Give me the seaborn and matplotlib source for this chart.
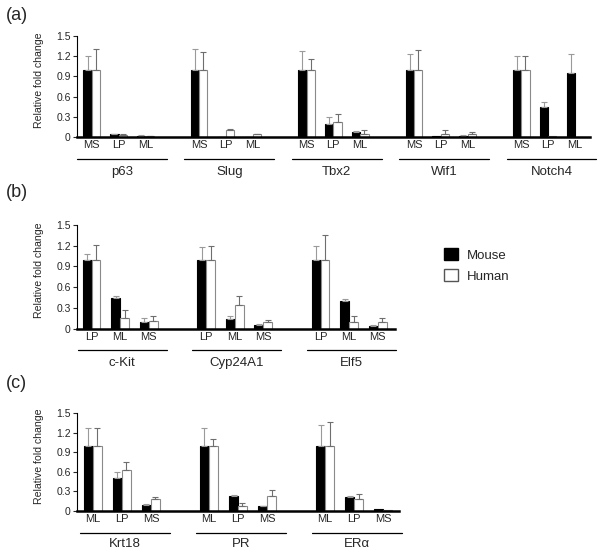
import numpy as np
import pandas as pd
import matplotlib
matplotlib.use("Agg")
import matplotlib.pyplot as plt
import seaborn as sns
from matplotlib.patches import Patch

# panel (a)
genes_a = ["p63", "Slug", "Tbx2", "Wif1", "Notch4"]
cells_a = ["MS", "LP", "ML"]
mouse_a = [1.0, 0.04, 0.02, 1.0, 0.0, 0.0, 1.0, 0.19, 0.07, 1.0, 0.01, 0.02, 1.0, 0.445, 0.945]
mouse_a_err = [0.2, 0.01, 0.005, 0.3, 0.0, 0.0, 0.28, 0.10, 0.02, 0.24, 0.0, 0.005, 0.2, 0.07, 0.285]
human_a = [1.0, 0.03, 0.015, 1.0, 0.11, 0.04, 1.0, 0.23, 0.05, 1.0, 0.05, 0.04, 1.0, 0.01, 0.0]
human_a_err = [0.3, 0.01, 0.005, 0.26, 0.01, 0.005, 0.16, 0.11, 0.05, 0.29, 0.05, 0.04, 0.21, 0.0, 0.0]

# panel (b)
genes_b = ["c-Kit", "Cyp24A1", "Elf5"]
cells_b = ["LP", "ML", "MS"]
mouse_b = [1.0, 0.44, 0.09, 1.0, 0.145, 0.05, 1.0, 0.395, 0.045]
mouse_b_err = [0.08, 0.04, 0.06, 0.18, 0.035, 0.02, 0.19, 0.035, 0.005]
human_b = [1.0, 0.16, 0.115, 1.0, 0.34, 0.09, 1.0, 0.09, 0.09]
human_b_err = [0.21, 0.105, 0.065, 0.19, 0.13, 0.03, 0.35, 0.09, 0.06]

# panel (c)
genes_c = ["Krt18", "PR", "ER\u03b1"]
cells_c = ["ML", "LP", "MS"]
mouse_c = [1.0, 0.51, 0.087, 1.0, 0.226, 0.07, 1.0, 0.21, 0.03]
mouse_c_err = [0.28, 0.08, 0.023, 0.27, 0.014, 0.005, 0.32, 0.01, 0.0]
human_c = [1.0, 0.625, 0.185, 1.0, 0.07, 0.226, 1.0, 0.18, 0.01]
human_c_err = [0.28, 0.13, 0.03, 0.11, 0.05, 0.094, 0.37, 0.08, 0.0]

yticks = [0, 0.3, 0.6, 0.9, 1.2, 1.5]
ytick_labels = ["0", "0.3", "0.6", "0.9", "1.2", "1.5"]

sns.set_style("white")
plt.rcParams["font.family"] = ["Liberation Sans", "DejaVu Sans"]

W, H = 600, 550
fig = plt.figure(figsize=(6, 5.5), dpi=100)

BAR_W = 0.62


def draw_panel(rect_px, genes, cells, mouse, mouse_err, human, human_err,
               xlim, line_y, label_y, span):
    left, top, right, bottom = rect_px
    ax = fig.add_axes([left / W, (H - bottom) / H, (right - left) / W, (bottom - top) / H])

    order = []
    for k, g in enumerate(genes):
        if k > 0:
            order.append(f"gap{k}")
        for c in cells:
            order.append(f"{g}|{c}")
    slots = [f"{g}|{c}" for g in genes for c in cells]
    df = pd.DataFrame({
        "slot": slots * 2,
        "species": ["Mouse"] * len(slots) + ["Human"] * len(slots),
        "value": list(mouse) + list(human),
    })
    sns.barplot(data=df, x="slot", y="value", hue="species", order=order,
                hue_order=["Mouse", "Human"],
                palette={"Mouse": "black", "Human": "white"},
                width=BAR_W, errorbar=None, legend=False, saturation=1,
                linewidth=0.8, edgecolor="black", ax=ax)
    for p in ax.patches:
        if p.get_facecolor()[0] > 0.5:
            p.set_edgecolor("#8a8a8a")

    pos = np.array([order.index(s) for s in slots], dtype=float)
    off = BAR_W / 4
    m_err = np.array(mouse_err)
    h_err = np.array(human_err)
    mk = m_err > 0
    hk = h_err > 0
    ax.errorbar(pos[mk] - off, np.array(mouse)[mk],
                yerr=[np.zeros(mk.sum()), m_err[mk]],
                fmt="none", ecolor="#9a9a9a", elinewidth=0.8, capsize=2.5, capthick=0.8)
    ax.errorbar(pos[hk] + off, np.array(human)[hk],
                yerr=[np.zeros(hk.sum()), h_err[hk]],
                fmt="none", ecolor="#6e6e6e", elinewidth=0.8, capsize=2.5, capthick=0.8)

    ax.set_xlim(*xlim)
    ax.set_ylim(0, 1.5)
    ax.set_yticks(yticks)
    ax.set_yticklabels(ytick_labels)
    ax.set_xticks(pos)
    ax.set_xticklabels(cells * len(genes))
    ax.tick_params(axis="x", length=0, pad=2.5, labelsize=8)
    ax.tick_params(axis="y", length=3, width=0.8, pad=1.5, labelsize=7.5, direction="out", left=True)
    ax.set_xlabel("")
    ax.set_ylabel("Relative fold change", fontsize=7.6)
    ax.yaxis.set_label_coords(-(left - 44) / (right - left), 0.56)
    for s in ["top", "right"]:
        ax.spines[s].set_visible(False)
    ax.spines["left"].set_linewidth(0.8)
    ax.spines["left"].set_color("black")
    ax.spines["bottom"].set_linewidth(1.8)
    ax.spines["bottom"].set_color("black")

    tr = ax.get_xaxis_transform()
    h_px = bottom - top
    ly = -(line_y - bottom) / h_px
    ty = -(label_y - bottom) / h_px
    for k, g in enumerate(genes):
        x0, x1 = 4 * k + span[0], 4 * k + span[1]
        ax.plot([x0, x1], [ly, ly], color="black", lw=0.9, transform=tr, clip_on=False)
        ax.text((x0 + x1) / 2, ty, g, transform=tr, ha="center", va="center", fontsize=9.5)
    return ax


ax_a = draw_panel((77, 36, 590, 137), genes_a, cells_a, mouse_a, mouse_a_err,
                  human_a, human_a_err, (-0.55, 18.56), 159, 172, (-0.55, 2.8))
ax_b = draw_panel((77, 225, 395, 328.7), genes_b, cells_b, mouse_b, mouse_b_err,
                  human_b, human_b_err, (-0.51, 10.6), 350, 363, (-0.48, 2.62))
ax_c = draw_panel((77, 413.3, 399, 510.7), genes_c, cells_c, mouse_c, mouse_c_err,
                  human_c, human_c_err, (-0.55, 10.55), 533, 544, (-0.45, 2.65))

for lab, y in [("(a)", 15), ("(b)", 193), ("(c)", 383)]:
    fig.text(6 / W, 1 - y / H, lab, ha="left", va="center", fontsize=13)

handles = [Patch(facecolor="black", edgecolor="black", label="Mouse"),
           Patch(facecolor="white", edgecolor="#555555", linewidth=1, label="Human")]
fig.legend(handles=handles, loc="upper left", bbox_to_anchor=(444 / W, 1 - 248 / H),
           frameon=False, fontsize=9.5, handlelength=1.05, handleheight=1.05,
           handletextpad=0.7, labelspacing=0.55, borderpad=0, borderaxespad=0)

fig.savefig("out.png", dpi=100)
